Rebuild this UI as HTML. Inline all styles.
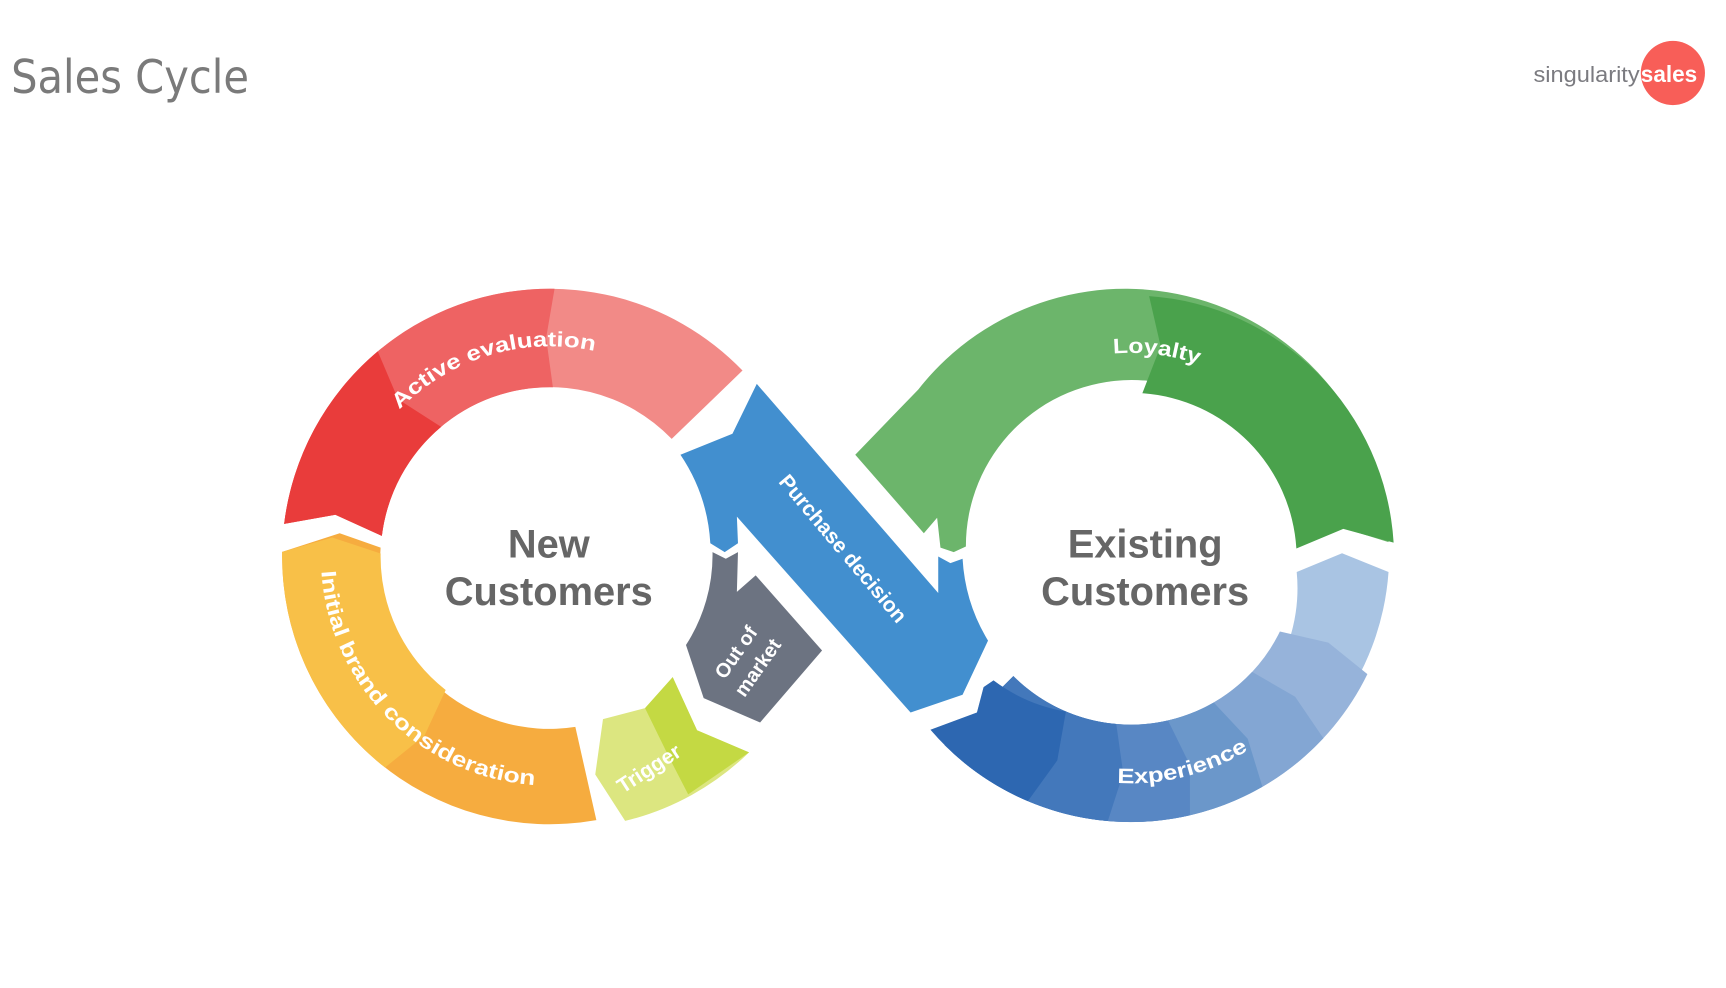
<!DOCTYPE html>
<html><head><meta charset="utf-8"><style>
html,body{margin:0;padding:0;background:#fff;}
svg{display:block;}
text{font-family:"Liberation Sans",sans-serif;}
</style></head><body>
<svg id="s" width="1726" height="988" viewBox="0 0 1560 893" xmlns="http://www.w3.org/2000/svg">
<defs>
<path id="pAct" d="M 497 693 A 190 190 0 1 1 497.1 693" />
<path id="pInit" d="M 497 296 A 207 207 0 1 0 497.1 296" />
<path id="pLoy" d="M 1022 691 A 186 186 0 1 1 1022.1 691" />
<path id="pExp" d="M 1022 302 A 203 203 0 1 0 1022.1 302" />
</defs>
<g id="shapes"></g>
<text x="10" y="84" font-size="42" fill="#7a7a7a" style="font-family:'DejaVu Sans','Liberation Sans',sans-serif" textLength="215" lengthAdjust="spacingAndGlyphs">Sales Cycle</text>
<circle cx="1512" cy="66" r="29" fill="#F85E58"/>
<text x="1386" y="74" font-size="20" fill="#7b7b80" textLength="96" lengthAdjust="spacingAndGlyphs">singularity</text>
<text x="1483" y="74" font-size="21" font-weight="bold" fill="#fff" textLength="51" lengthAdjust="spacingAndGlyphs">sales</text>
<g font-weight="bold" fill="#666" font-size="36" text-anchor="middle">
<text x="496" y="504">New</text>
<text x="496" y="547">Customers</text>
<text x="1035" y="504">Existing</text>
<text x="1035" y="547">Customers</text>
</g>
<g fill="#fff" font-weight="bold" font-size="19">
<text><textPath href="#pAct" startOffset="445" textLength="192" lengthAdjust="spacingAndGlyphs">Active evaluation</textPath></text>
<text><textPath href="#pInit" startOffset="338" textLength="298" lengthAdjust="spacingAndGlyphs">Initial brand consideration</textPath></text>
<text><textPath href="#pLoy" startOffset="568" textLength="78" lengthAdjust="spacingAndGlyphs">Loyalty</textPath></text>
<text><textPath href="#pExp" startOffset="625" textLength="124" lengthAdjust="spacingAndGlyphs">Experience</textPath></text>
<text transform="translate(590,700) rotate(-33)" text-anchor="middle">Trigger</text>
<text transform="translate(680,600) rotate(-55)" text-anchor="middle" font-size="18"><tspan x="0" y="-12">Out of</tspan><tspan x="0" y="12">market</tspan></text>
<text transform="translate(757,500) rotate(50)" text-anchor="middle">Purchase decision</text>
</g>
</svg>
<script>
(function(){
var g=document.getElementById('shapes');
function P(cx,cy,r,a){a=a*Math.PI/180;return [cx+r*Math.cos(a),cy+r*Math.sin(a)];}
function f(p){return p[0].toFixed(1)+' '+p[1].toFixed(1);}
function seg(cx,cy,r1,r2,a0,a1,ds,de,col){
 var rm=(r1+r2)/2,large=(a1-a0)>180?1:0;
 var d='M '+f(P(cx,cy,r2,a0))+' A '+r2+' '+r2+' 0 '+large+' 1 '+f(P(cx,cy,r2,a1));
 d+=' L '+f(P(cx,cy,rm,a1+de))+' L '+f(P(cx,cy,r1,a1));
 d+=' A '+r1+' '+r1+' 0 '+large+' 0 '+f(P(cx,cy,r1,a0));
 d+=' L '+f(P(cx,cy,rm,a0+ds))+' Z';
 add(d,col);
}
function add(d,col){var p=document.createElementNS('http://www.w3.org/2000/svg','path');p.setAttribute('d',d);p.setAttribute('fill',col);g.appendChild(p);}
var L=[497,503],RO=242;
// orange
add('M 520 657 L '+f(P(L[0],L[1],RO,80))+' A '+RO+' '+RO+' 0 0 1 '+f(P(L[0],L[1],RO,181))+' L 307 482 L 344 495 A 153 153 0 0 0 520 657 Z','#F6AC3F');
seg(L[0],L[1],153,RO,128,181,-3,4,'#F8C048');
// red
seg(L[0],L[1],153,RO,187,316,4,0,'#F28A87');
seg(L[0],L[1],153,RO,187,271,4,-2,'#EE6363');
seg(L[0],L[1],153,RO,187,230,4,-4,'#E93C3B');
// trigger
add('M 545 650 L 583 640 L 608 612 L 630 660 L 677 680 A 242 242 0 0 1 565 742 L 538 700 Z','#DCE680');
add('M 583 640 L 608 612 L 630 660 L 677 680 L 622 718 L 605 685 Z','#C4D943');
var R=[1022,505];
// green
add('M 773 411 L 830 352 A 238 238 0 0 1 1255 490 L 1213 477 L 1173 493 A 150 150 0 0 0 873 494 L 862 499 L 850 495 L 847 468 L 835 482 Z','#6CB56B');
seg(R[0],R[1],150,238,274,356.5,4,-4.5,'#4AA24C');
// experience blues
var cols=['#A9C4E3','#96B3DA','#83A6D3','#6B97CA','#5887C4','#4378BB','#2D67B1'];
var b=[3,26,43,60,77,95,113];
var st=f(P(R[0],R[1],238,139.5));
add('M '+st+' L 883 644 L 889 621 L 898 615 A 150 150 0 0 0 1172 517 L 1213 500 L 1255 517 A 238 238 0 0 1 '+st+' Z',cols[0]);
for(var i=1;i<7;i++){
 var a0=b[i];
 if(i<6) seg(R[0],R[1],150,238,a0,135,-3,0,cols[i]);
 else add('M '+st+' L 883 644 L 889 621 L 898 615 A 150 150 0 0 0 '+f(P(R[0],R[1],150,a0))+' L '+f(P(R[0],R[1],194,a0-3))+' L '+f(P(R[0],R[1],238,a0))+' A 238 238 0 0 1 '+st+' Z',cols[i]);
}
// blue band
add('M 684 347 L 848 536 L 848 503 L 859 509 L 870 505 A 160 160 0 0 0 893 579 L 870 628 L 823 644 L 666 467 L 667 491 L 655 499 L 642 491 A 160 160 0 0 0 615 411 L 662 392 Z','#428FCF');
// out of market
add('M 644 499 L 656 505 L 667 499 L 666 535 L 683 520 L 743 588 L 687 653 L 636 631 L 620 583 A 150 150 0 0 0 644 499 Z','#6C7381');
})();
</script>
</body></html>
